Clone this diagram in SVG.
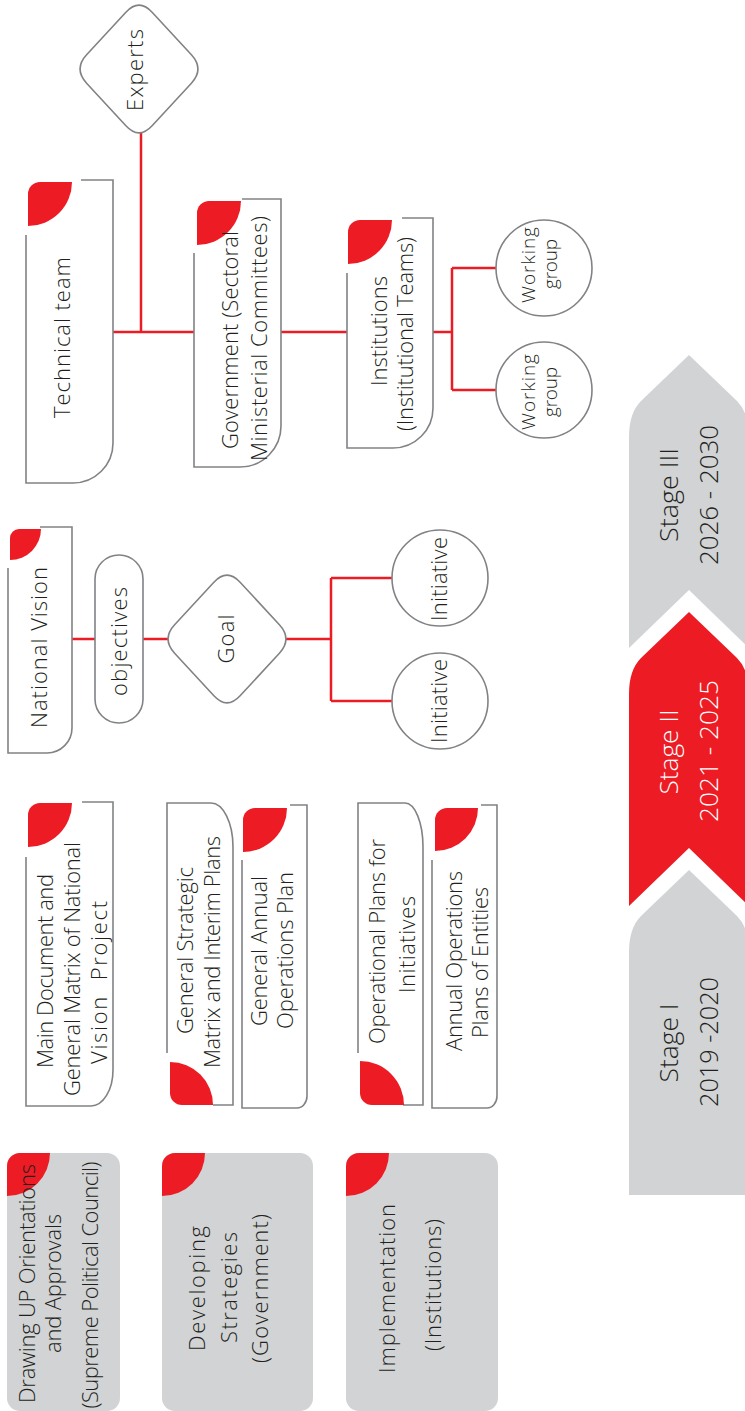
<svg xmlns="http://www.w3.org/2000/svg" width="745" height="1411" viewBox="0 0 745 1411">
<style>
.t{font-family:"Open Sans","Liberation Sans",sans-serif;font-weight:300;font-size:22px;fill:#231f20;text-anchor:middle}
.s{font-size:19px}
.st{font-family:"Open Sans","Liberation Sans",sans-serif;font-weight:300;font-size:25px;fill:#231f20;text-anchor:middle}
.w{fill:#ffffff}
.ol{fill:none;stroke:#808285;stroke-width:1.6}
.shape{fill:#ffffff;stroke:#808285;stroke-width:1.6}
.leaf{fill:#ed1c24}
.gray{fill:#d1d3d4}
.red{fill:#ed1c24}
.conn{fill:none;stroke:#ed1c24;stroke-width:2.5}
</style>
<rect width="745" height="1411" fill="#ffffff"/>

<g id="connectors">
<path class="conn" d="M113,332 H194 M141,133 V332 M281,332 H347 M433,332 H452 M452,268 V390 M452,268 H496 M452,390 H496"/>
<path class="conn" d="M72,639 H95 M143,639 H168 M286,639 H331 M331,578 V701 M331,578 H392 M331,701 H392"/>
</g>

<g id="stage-3">
<path class="gray" d="M689,355 L641,401 Q629,413 629,437 L629,648 L689,590 L749,648 L749,437 Q749,413 737,401 Z"/>
<text class="st" transform="translate(678,495) rotate(-90)" textLength="94" lengthAdjust="spacingAndGlyphs">Stage III</text>
<text class="st" transform="translate(718,495) rotate(-90)" textLength="140" lengthAdjust="spacingAndGlyphs">2026 - 2030</text>
</g>
<g id="stage-2">
<path class="red" d="M689,612 L641,658 Q629,670 629,694 L629,906 L689,848 L749,906 L749,694 Q749,670 737,658 Z"/>
<text class="st w" transform="translate(678,752) rotate(-90)" textLength="85" lengthAdjust="spacingAndGlyphs">Stage II</text>
<text class="st w" transform="translate(718,751) rotate(-90)" textLength="142" lengthAdjust="spacingAndGlyphs">2021 - 2025</text>
</g>
<g id="stage-1">
<path class="gray" d="M689,870 L641,916 Q629,928 629,952 L629,1195 L749,1195 L749,952 Q749,928 737,916 Z"/>
<text class="st" transform="translate(678,1043) rotate(-90)" textLength="79" lengthAdjust="spacingAndGlyphs">Stage I</text>
<text class="st" transform="translate(718,1042) rotate(-90)" textLength="130" lengthAdjust="spacingAndGlyphs">2019 -2020</text>
</g>

<g id="phase-drawing">
<rect class="gray" x="7" y="1153" width="113" height="258" rx="13"/>
<path class="leaf" d="M20,1153 L50,1153 A43,43 0 0 1 7,1196 L7,1166 A13,13 0 0 1 20,1153 Z"/>
<text class="t" transform="translate(35,1283.5) rotate(-90)" textLength="239">Drawing UP Orientations</text>
<text class="t" transform="translate(61,1283.5) rotate(-90)" textLength="139">and Approvals</text>
<text class="t" transform="translate(98,1285) rotate(-90)" textLength="247">(Supreme Political Council)</text>
</g>
<g id="phase-developing">
<rect class="gray" x="162" y="1153" width="151" height="258" rx="13"/>
<path class="leaf" d="M175,1153 L205,1153 A43,43 0 0 1 162,1196 L162,1166 A13,13 0 0 1 175,1153 Z"/>
<text class="t" transform="translate(205,1288.5) rotate(-90)" textLength="125">Developing</text>
<text class="t" transform="translate(237,1287.5) rotate(-90)" textLength="111">Strategies</text>
<text class="t" transform="translate(268,1288.5) rotate(-90)" textLength="149">(Government)</text>
</g>
<g id="phase-implementation">
<rect class="gray" x="346" y="1153" width="152" height="258" rx="13"/>
<path class="leaf" d="M359,1153 L389,1153 A43,43 0 0 1 346,1196 L346,1166 A13,13 0 0 1 359,1153 Z"/>
<text class="t" transform="translate(395,1288.5) rotate(-90)" textLength="169">Implementation</text>
<text class="t" transform="translate(441,1285) rotate(-90)" textLength="132">(Institutions)</text>
</g>

<g id="doc-main">
<path class="ol" d="M82,802 L113,802 L113,1070 A22,36 0 0 1 91,1106 L26,1106 L26,857"/>
<path class="leaf" d="M40,803 L72,803 A44,44 0 0 1 28,847 L28,815 A12,12 0 0 1 40,803 Z"/>
<text class="t" transform="translate(53,971) rotate(-90)" textLength="194">Main Document and</text>
<text class="t" transform="translate(80,969) rotate(-90)" textLength="254">General Matrix of National</text>
<text class="t" transform="translate(107,982.5) rotate(-90)" textLength="163" xml:space="preserve">Vision  Project</text>
</g>
<g id="doc-strategic">
<path class="ol" d="M167,1053 L167,803 L211,803 A22,44 0 0 1 233,847 L233,1105 L213,1105"/>
<path class="leaf" d="M170,1062 A43,43 0 0 1 213,1105 L182,1105 A12,12 0 0 1 170,1093 Z"/>
<text class="t" transform="translate(193,950.5) rotate(-90)" textLength="167">General Strategic</text>
<text class="t" transform="translate(220,952) rotate(-90)" textLength="232">Matrix and Interim Plans</text>
</g>
<g id="doc-annual">
<path class="ol" d="M290,805 L307,805 L307,1096 A10,12 0 0 1 297,1108 L242,1108 L242,860"/>
<path class="leaf" d="M255,808 L287,808 A44,44 0 0 1 243,852 L243,820 A12,12 0 0 1 255,808 Z"/>
<text class="t" transform="translate(267,951) rotate(-90)" textLength="150">General Annual</text>
<text class="t" transform="translate(293,950.5) rotate(-90)" textLength="157">Operations Plan</text>
</g>
<g id="doc-operational">
<path class="ol" d="M358,1053 L358,803 L405,803 A18,44 0 0 1 423,847 L423,1105 L403,1105"/>
<path class="leaf" d="M360,1061 A44,44 0 0 1 404,1105 L372,1105 A12,12 0 0 1 360,1093 Z"/>
<text class="t" transform="translate(385,941.5) rotate(-90)" textLength="205">Operational Plans for</text>
<text class="t" transform="translate(415,944.5) rotate(-90)" textLength="97">Initiatives</text>
</g>
<g id="doc-entities">
<path class="ol" d="M481,805 L497,805 L497,1096 A10,12 0 0 1 487,1108 L432,1108 L432,860"/>
<path class="leaf" d="M447,808 L478,808 A43,43 0 0 1 435,851 L435,820 A12,12 0 0 1 447,808 Z"/>
<text class="t" transform="translate(462,961) rotate(-90)" textLength="180">Annual Operations</text>
<text class="t" transform="translate(488,962.5) rotate(-90)" textLength="151">Plans of Entities</text>
</g>

<g id="national-vision">
<path class="ol" d="M40,527 L72,527 L72,728 A25,25 0 0 1 47,753 L8,753 L8,568"/>
<path class="leaf" d="M19,529 L41,529 A31,31 0 0 1 10,560 L10,538 A9,9 0 0 1 19,529 Z"/>
<text class="t" transform="translate(47,647.5) rotate(-90)" textLength="161">National Vision</text>
</g>
<g id="objectives">
<rect class="shape" x="95" y="555" width="48" height="168" rx="24"/>
<text class="t" transform="translate(127,641.5) rotate(-90)" textLength="109">objectives</text>
</g>
<g id="goal">
<path class="shape" d="M213.9,582.2 Q227,568 240.1,582.2 L279.4,624.8 Q292.5,639 279.4,653.2 L240.1,695.8 Q227,710 213.9,695.8 L174.6,653.2 Q161.5,639 174.6,624.8 Z"/>
<text class="t" transform="translate(234,639) rotate(-90)" textLength="49">Goal</text>
</g>
<g id="initiative-1">
<circle class="shape" cx="440" cy="578" r="48"/>
<text class="t" transform="translate(447,579) rotate(-90)" textLength="84">Initiative</text>
</g>
<g id="initiative-2">
<circle class="shape" cx="440" cy="701" r="48"/>
<text class="t" transform="translate(447,701) rotate(-90)" textLength="84">Initiative</text>
</g>

<g id="experts">
<path class="shape" d="M125.9,12.2 Q139,-2 152.1,12.2 L191.4,54.8 Q204.5,69 191.4,83.2 L152.1,125.8 Q139,140 125.9,125.8 L86.6,83.2 Q73.5,69 86.6,54.8 Z"/>
<text class="t" transform="translate(143,70) rotate(-90)" textLength="82">Experts</text>
</g>
<g id="technical-team">
<path class="ol" d="M81,180 L113,180 L113,443 A40,40 0 0 1 73,483 L26,483 L26,235"/>
<path class="leaf" d="M40,182 L72,182 A44,44 0 0 1 28,226 L28,194 A12,12 0 0 1 40,182 Z"/>
<text class="t" transform="translate(70,337.5) rotate(-90)" textLength="161">Technical team</text>
</g>
<g id="government">
<path class="ol" d="M242,199 L281,199 L281,426 A41,41 0 0 1 240,467 L194,467 L194,253"/>
<path class="leaf" d="M209,201 L241,201 A44,44 0 0 1 197,245 L197,213 A12,12 0 0 1 209,201 Z"/>
<text class="t" transform="translate(238,340) rotate(-90)" textLength="218">Government (Sectoral</text>
<text class="t" transform="translate(267,338.5) rotate(-90)" textLength="245">Ministerial Committees)</text>
</g>
<g id="institutions">
<path class="ol" d="M402,218 L433,218 L433,408 A40,40 0 0 1 393,448 L347,448 L347,273"/>
<path class="leaf" d="M360,220 L392,220 A44,44 0 0 1 348,264 L348,232 A12,12 0 0 1 360,220 Z"/>
<text class="t" transform="translate(387,331) rotate(-90)" textLength="110">Institutions</text>
<text class="t" transform="translate(413,334) rotate(-90)" textLength="194">(Institutional Teams)</text>
</g>
<g id="working-group-1">
<circle class="shape" cx="544" cy="268" r="48"/>
<text class="t s" transform="translate(535,265) rotate(-90)" textLength="76">Working</text>
<text class="t s" transform="translate(557,264) rotate(-90)" textLength="50">group</text>
</g>
<g id="working-group-2">
<circle class="shape" cx="544" cy="390" r="48"/>
<text class="t s" transform="translate(535,392) rotate(-90)" textLength="76">Working</text>
<text class="t s" transform="translate(557,392) rotate(-90)" textLength="50">group</text>
</g>
</svg>
